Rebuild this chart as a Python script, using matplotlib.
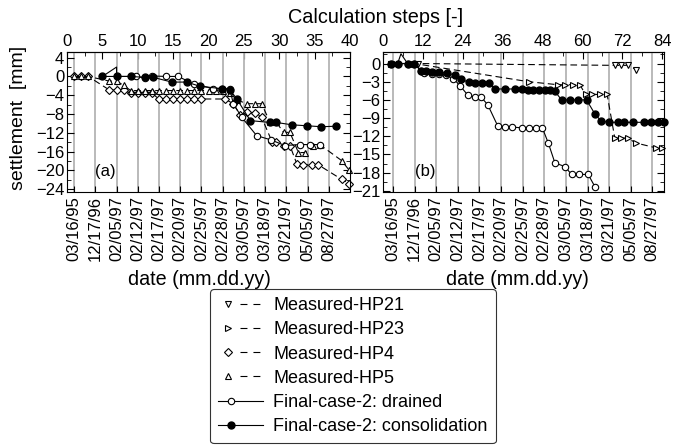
import matplotlib
matplotlib.use('Agg')
import matplotlib.pyplot as plt
from matplotlib.legend_handler import HandlerBase
from matplotlib.lines import Line2D
from matplotlib.ticker import MultipleLocator

plt.rcParams['font.family'] = ['Liberation Sans', 'DejaVu Sans']
plt.rcParams['font.size'] = 12

# dates shown under each panel
date_labels = ['03/16/95', '12/17/96', '02/05/97', '02/12/97', '02/17/97', '02/20/97', '02/25/97',
               '02/28/97', '03/05/97', '03/18/97', '03/21/97', '05/05/97', '08/27/97']
date_steps_a = [1, 4, 7, 10, 13, 16, 19, 22, 25, 28, 31, 34, 37]
date_steps_b = [3, 9.5, 16, 22.5, 29, 35.5, 42, 48.5, 55, 61.5, 68, 74.5, 81]

# panel (a): HP4 / HP5
hp5_a_x = [1, 2, 3, 6, 7, 8, 9, 10, 11, 12, 13, 14, 15, 16, 17, 18, 19, 20, 21, 22, 23, 24,
           25.4, 26.6, 27.5, 28.7, 29.6, 30.6, 31.5, 32.7, 33.6, 34.8, 35.8, 38.8, 39.9]
hp5_a_y = [0, 0, 0, -1, -1, -1.9, -3, -3, -3, -3, -3, -3, -3, -3, -3, -3, -3, -3, -3, -3.1, -3.6, -5,
           -5.8, -5.8, -5.8, -9.8, -9.8, -11.9, -11.9, -16.2, -16.2, -14.7, -14.6, -17.9, -20]
hp4_a_x = [1, 2, 3, 6, 7, 8, 9, 10, 11, 12, 13, 14, 15, 16, 17, 18, 19, 22.3, 23.5, 24.5, 25.4,
           26.6, 27.5, 29, 29.6, 30.6, 31.5, 32.5, 33.4, 34.6, 35.5, 38.8, 39.9]
hp4_a_y = [0, 0, 0, -2.9, -2.9, -2.9, -3.6, -3.6, -3.6, -3.6, -4.8, -4.8, -4.8, -4.8, -4.8, -4.8, -4.8,
           -4.8, -5.8, -8.3, -7.6, -7.8, -8.7, -14, -14, -14.7, -14.7, -18.7, -18.8, -18.8, -18.8, -21.9, -22.8]
drn_a_x = [5, 7, 7, 9.8, 11, 12, 14, 15.7, 17.9, 20.7, 21.9, 23, 23.5, 24.7, 26.8, 28.8, 30.8, 32.9, 34.3, 35.8]
drn_a_y = [0, 2, 0, 0, -0.3, 0.1, 0, 0, -1.6, -2.6, -2.6, -2.6, -5.8, -8.7, -12.6, -13.5, -14.7, -14.5, -14.5, -14.5]
con_a_x = [5, 7, 9, 11, 12.2, 14.8, 16.9, 18.8, 21.9, 23, 24, 25.9, 28.7, 29.6, 31.8, 33.9, 35.9, 38]
con_a_y = [0, 0, 0, -0.2, -0.2, -1.2, -1.2, -2.1, -2.6, -2.8, -4.8, -9.4, -9.8, -9.8, -10.3, -10.5, -10.7, -10.6]

# panel (b): HP21 / HP23
hp21_b_x = [2.4, 10.4, 69.7, 71.7, 73.6, 76.1]
hp21_b_y = [0, 0, -0.3, -0.3, -0.3, -1]
hp23_b_x = [2.4, 9.4, 43.8, 52.6, 54.8, 57, 59.2, 60.9, 63, 65.2, 67.4, 69.7, 71.7, 73.6, 76, 82, 84]
hp23_b_y = [0, 0, -3, -3.5, -3.5, -3.5, -3.5, -5.1, -5.1, -5.1, -5.1, -12.3, -12.3, -12.3, -13.1, -13.9, -13.9]
drn_b_x = [2.4, 4.4, 5.4, 7.4, 9.4, 11.4, 12.4, 14.8, 16.9, 18.8, 21.2, 23.2, 25.5, 27.8, 29.6, 31.5,
           34.5, 36.8, 38.8, 41.8, 43.8, 45.9, 47.9, 49.7, 51.7, 54.7, 56.7, 59, 61.7, 63.7]
drn_b_y = [0, 0, 1.6, 0, 0, -1.2, -1.6, -1.8, -1.8, -1.9, -2.5, -3.7, -5.2, -5.6, -5.6, -6.8,
           -10.3, -10.5, -10.5, -10.6, -10.6, -10.6, -10.6, -13.1, -16.4, -17, -18.3, -18.3, -18.3, -20.3]
con_b_x = [2.4, 4.4, 7.4, 9.4, 11.4, 12.9, 14.8, 16.9, 19.3, 21.8, 23.5, 25.8, 27.7, 29.7, 31.8, 33.8,
           36.8, 39.8, 41.8, 43.5, 45.2, 46.8, 48.7, 50.2, 51.7, 53.7, 56.2, 58.7, 61.2, 63.7, 65.6,
           68.1, 70.6, 72.6, 75.1, 78.6, 80.6, 82.6, 84.4]
con_b_y = [0, 0, 0, 0, -1.2, -1.3, -1.4, -1.4, -1.6, -1.9, -2.6, -3.1, -3.2, -3.2, -3.2, -4.2,
           -4.2, -4.2, -4.2, -4.3, -4.3, -4.3, -4.3, -4.4, -4.6, -6, -6, -6, -6, -8.3, -9.5,
           -9.7, -9.7, -9.7, -9.7, -9.7, -9.7, -9.7, -9.7]

lw = 0.8
dash = (0, (6, 3.5))
open_kw = dict(markerfacecolor='white', markeredgecolor='black', markeredgewidth=0.8, color='black')
styles = {
    'HP21': dict(marker='v', ms=4.5, ls=dash, lw=lw, **open_kw),
    'HP23': dict(marker='>', ms=4.5, ls=dash, lw=lw, **open_kw),
    'HP4': dict(marker='D', ms=3.6, ls=dash, lw=lw, **open_kw),
    'HP5': dict(marker='^', ms=4.5, ls=dash, lw=lw, **open_kw),
    'drn': dict(marker='o', ms=4.6, ls='-', lw=lw, **open_kw),
    'con': dict(marker='o', ms=5, ls='-', lw=lw, color='black', markerfacecolor='black',
                markeredgecolor='black'),
}

fig = plt.figure(figsize=(6.75, 4.48), dpi=100)
ax_a = fig.add_axes([0.0993, 0.5714, 0.4193, 0.3125])
ax_b = fig.add_axes([0.5674, 0.5714, 0.4163, 0.3125])


def setup(ax, xmax, ylim, ymajor, yminor, top_step, date_steps, tag, tag_x, xlab_x):
    ax.set_xlim(0, xmax)
    ax.set_ylim(*ylim)
    ax.set_xticks(date_steps)
    ax.set_xticklabels(date_labels, rotation=90)
    ax.xaxis.grid(True, color='#b4b4b4', lw=1.3)
    ax.set_axisbelow(True)
    ax.yaxis.set_major_locator(MultipleLocator(ymajor))
    ax.yaxis.set_minor_locator(MultipleLocator(yminor))
    ax.tick_params(axis='y', which='both', direction='in', right=True, labelsize=12)
    ax.tick_params(axis='y', which='major', length=5, pad=2)
    ax.tick_params(axis='y', which='minor', length=3)
    ax.tick_params(axis='x', direction='in', length=4, labelsize=12, pad=3)
    top = ax.secondary_xaxis('top')
    top.xaxis.set_major_locator(MultipleLocator(top_step))
    top.xaxis.set_minor_locator(MultipleLocator(top_step / 2))
    top.tick_params(which='both', direction='in', labelsize=12, pad=2)
    top.tick_params(which='major', length=5)
    top.tick_params(which='minor', length=3)
    ax.set_xlabel('date (mm.dd.yy)', fontsize=14.2)
    ax.xaxis.set_label_coords(xlab_x, -0.56)
    ax.text(tag_x, 0.143, tag, transform=ax.transAxes, fontsize=12, va='center')
    for s in ax.spines.values():
        s.set_linewidth(0.8)


setup(ax_a, 40, (-24.6, 5.2), 4, 2, 5, date_steps_a, '(a)', 0.1, 0.467)
setup(ax_b, 84.5, (-21.2, 1.9), 3, 1.5, 12, date_steps_b, '(b)', 0.114, 0.478)
ax_a.set_ylabel('settlement  [mm]', fontsize=14)
ax_a.yaxis.set_label_coords(-0.141, 0.532)

ax_a.plot(hp4_a_x, hp4_a_y, clip_on=False, **styles['HP4'])
ax_a.plot(hp5_a_x, hp5_a_y, clip_on=False, **styles['HP5'])
ax_a.plot(drn_a_x, drn_a_y, markevery=list(range(3, len(drn_a_x))), **styles['drn'])
ax_a.plot(con_a_x, con_a_y, **styles['con'])

ax_b.plot(hp21_b_x, hp21_b_y, **styles['HP21'])
ax_b.plot(hp23_b_x, hp23_b_y, clip_on=False, **styles['HP23'])
drn_marks = [i for i in range(len(drn_b_x)) if i != 2]
ax_b.plot(drn_b_x, drn_b_y, markevery=drn_marks, **styles['drn'])
ax_b.plot(con_b_x, con_b_y, clip_on=False, **styles['con'])

fig.text(0.556, 0.962, 'Calculation steps [-]', ha='center', va='center', fontsize=14.3)


class MarkerAt(HandlerBase):
    """Legend key: a line from `line_start` to the right end of the handle,
    plus one marker at `frac` of the handle width."""

    def __init__(self, frac, line_start=0.0, dashes=None, **kw):
        super().__init__(**kw)
        self.frac = frac
        self.line_start = line_start
        self.dashes = dashes

    def create_artists(self, legend, orig_handle, xdescent, ydescent, width, height,
                       fontsize, trans):
        y = (height - ydescent) / 2
        x0 = -xdescent + self.line_start * width
        line = Line2D([x0, -xdescent + width], [y, y])
        self.update_prop(line, orig_handle, legend)
        line.set_marker('')
        if self.dashes is not None:
            line.set_linestyle(self.dashes)
        mark = Line2D([-xdescent + self.frac * width], [y])
        self.update_prop(mark, orig_handle, legend)
        mark.set_linestyle('None')
        line.set_transform(trans)
        mark.set_transform(trans)
        return [line, mark]


labels = ['Measured-HP21', 'Measured-HP23', 'Measured-HP4', 'Measured-HP5',
          'Final-case-2: drained', 'Final-case-2: consolidation']
keys = ['HP21', 'HP23', 'HP4', 'HP5', 'drn', 'con']
handles = [Line2D([], [], **styles[k]) for k in keys]
hmap = {}
for h, k in zip(handles, keys):
    if k.startswith('HP'):
        hmap[h] = MarkerAt(0.22, line_start=0.48, dashes=(0, (6.25, 5.4)))
    else:
        hmap[h] = MarkerAt(0.29)
leg = fig.legend(handles, labels, handler_map=hmap, loc='upper left',
                 bbox_to_anchor=(0.311, 0.355), fontsize=13, handlelength=2.5,
                 handletextpad=0.55, labelspacing=0.4, borderpad=0.45, borderaxespad=0,
                 fancybox=True, frameon=True)
leg.get_frame().set_edgecolor('black')
leg.get_frame().set_linewidth(0.8)

fig.savefig('out.png', dpi=100)
